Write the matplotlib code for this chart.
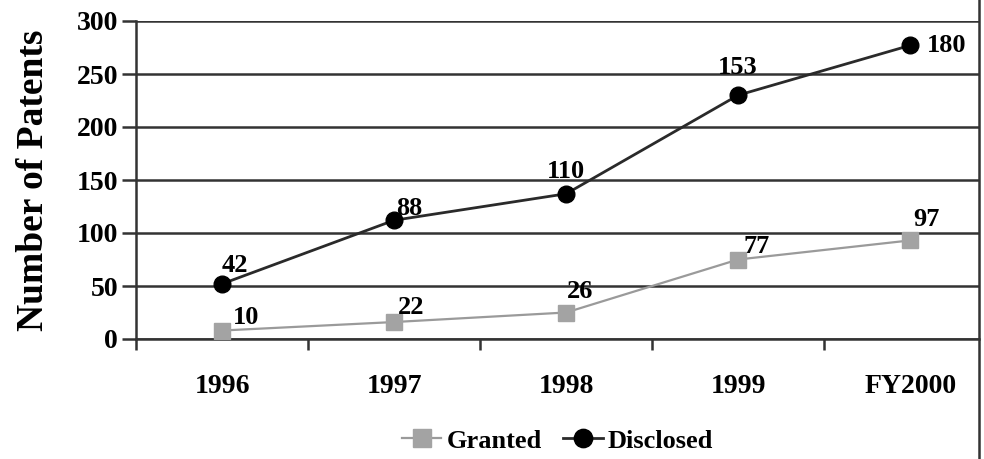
import numpy as np
import matplotlib
matplotlib.use("Agg")
import matplotlib.pyplot as plt
from matplotlib.lines import Line2D

# data
years = ["1996", "1997", "1998", "1999", "FY2000"]
disclosed = [52, 112, 137, 230, 277]
disclosed_labels = ["42", "88", "110", "153", "180"]
granted = [8, 16, 25, 75, 93]
granted_labels = ["10", "22", "26", "77", "97"]

plt.rcParams['font.family'] = ['Liberation Serif', 'DejaVu Serif']
plt.rcParams['font.weight'] = 'bold'

fig = plt.figure(figsize=(9.84, 4.59), dpi=100)
W, H = 984, 459
ax = fig.add_axes([136 / W, (H - 339) / H, (979 - 136) / W, 318 / H])

x = np.arange(len(years))
ax.plot(x, granted, color='#9a9a9a', lw=1.6, marker='s', ms=12,
        mfc='#a3a3a3', mec='#a3a3a3', zorder=3, label='Granted')
ax.plot(x, disclosed, color='#2a2a2a', lw=2, marker='o', ms=12,
        mfc='black', mec='black', zorder=4, label='Disclosed')

# label offsets in points
d_off = [(9, 5), (11, 0), (0, 8), (0, 12), (12, 0)]
d_ha = ['center', 'center', 'center', 'center', 'left']
for i, t in enumerate(disclosed_labels):
    ax.annotate(t, (x[i], disclosed[i]), xytext=d_off[i], textcoords='offset points',
                ha=d_ha[i], va='bottom' if d_ha[i] == 'center' else 'center',
                fontsize=19, fontweight='bold')
g_off = [(17, 1), (12, 2), (10, 7), (13, 1), (12, 7)]
for i, t in enumerate(granted_labels):
    ax.annotate(t, (x[i], granted[i]), xytext=g_off[i], textcoords='offset points',
                ha='center', va='bottom', fontsize=19, fontweight='bold')

ax.set_xlim(-0.5, 4.40)
ax.set_ylim(0, 300)
ax.set_yticks(np.arange(0, 301, 50))
ax.set_xticks(x)
ax.set_xticklabels(years)
ax.set_xticks(np.arange(-0.5, 4.5, 1.0), minor=True)
ax.tick_params(axis='x', which='major', length=0, pad=25, labelsize=20)
ax.tick_params(axis='x', which='minor', length=8, width=1.8, color='#333333')
ax.tick_params(axis='y', length=10, width=1.8, color='#333333', labelsize=20, pad=3)
ax.grid(axis='y', color='#333333', lw=1.8)
ax.set_axisbelow(True)
for s in ['top', 'right']:
    ax.spines[s].set_visible(False)
for s in ['left', 'bottom']:
    ax.spines[s].set_color('#333333')
    ax.spines[s].set_linewidth(1.8)
ax.set_ylabel('Number of Patents', fontsize=27, fontweight='bold', labelpad=18)

leg = ax.legend(loc='upper center', bbox_to_anchor=(0.5, -0.25), ncol=2, frameon=False,
                fontsize=19, handlelength=1.5, handletextpad=0.2, columnspacing=0.8,
                borderaxespad=0, markerscale=1.1)

# page border on the right
fig.add_artist(Line2D([979 / W, 979 / W], [0, 1], color='#333333', lw=1.8))

fig.savefig('out.png', dpi=100, facecolor='white')
